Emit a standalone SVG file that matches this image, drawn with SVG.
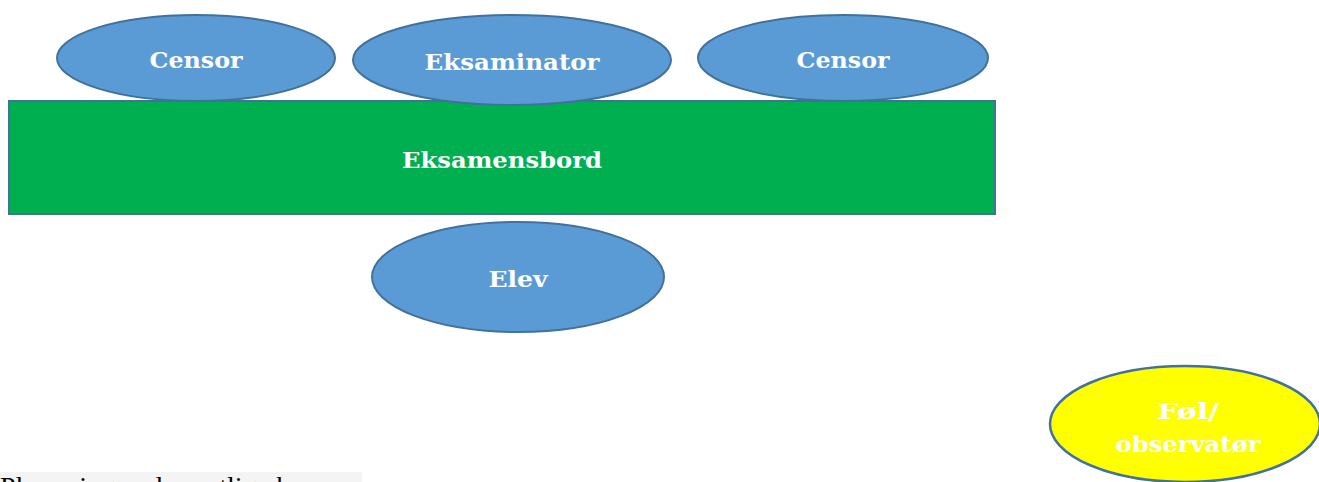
<svg xmlns="http://www.w3.org/2000/svg" width="1319" height="482" viewBox="0 0 1319 482">
<style>
.n{fill:#5B9BD5;stroke:#41719C;stroke-width:2}
.y{fill:#FFFF00;stroke:#41719C;stroke-width:2.5}
.t{font-family:"DejaVu Serif","Liberation Serif",serif;font-weight:bold;font-size:23px;fill:#FFFFFF;text-anchor:middle}
</style>
<rect width="1319" height="482" fill="#FFFFFF"/>
<g id="eksamensbord">
<rect x="9" y="101" width="986" height="113" fill="#00B050" stroke="#41719C" stroke-width="2"/>
<text class="t" x="502" y="168" textLength="200" lengthAdjust="spacingAndGlyphs">Eksamensbord</text>
</g>
<g id="censor1">
<ellipse class="n" cx="196" cy="58" rx="139" ry="43"/>
<text class="t" x="196" y="68" textLength="93" lengthAdjust="spacingAndGlyphs">Censor</text>
</g>
<g id="eksaminator">
<ellipse class="n" cx="512" cy="60" rx="159" ry="45"/>
<text class="t" x="512" y="70" textLength="175" lengthAdjust="spacingAndGlyphs">Eksaminator</text>
</g>
<g id="censor2">
<ellipse class="n" cx="843" cy="58" rx="145" ry="43"/>
<text class="t" x="843" y="68" textLength="93" lengthAdjust="spacingAndGlyphs">Censor</text>
</g>
<g id="elev">
<ellipse class="n" cx="518" cy="277" rx="146" ry="55"/>
<text class="t" x="518" y="287" textLength="59" lengthAdjust="spacingAndGlyphs">Elev</text>
</g>
<g id="fol">
<ellipse class="y" cx="1185" cy="424" rx="135" ry="58"/>
<text class="t" x="1188" y="419" textLength="62" lengthAdjust="spacingAndGlyphs">Føl/</text>
<text class="t" x="1188" y="452" textLength="145" lengthAdjust="spacingAndGlyphs">observatør</text>
</g>
<g id="connectors"></g>
<g id="caption">
<rect x="0" y="472" width="362" height="10" fill="#F4F4F4"/>
<text x="0" y="496" font-family="Liberation Serif, serif" font-size="28" fill="#000000">Plassering ved muntlig eksamen</text>
</g>
</svg>
